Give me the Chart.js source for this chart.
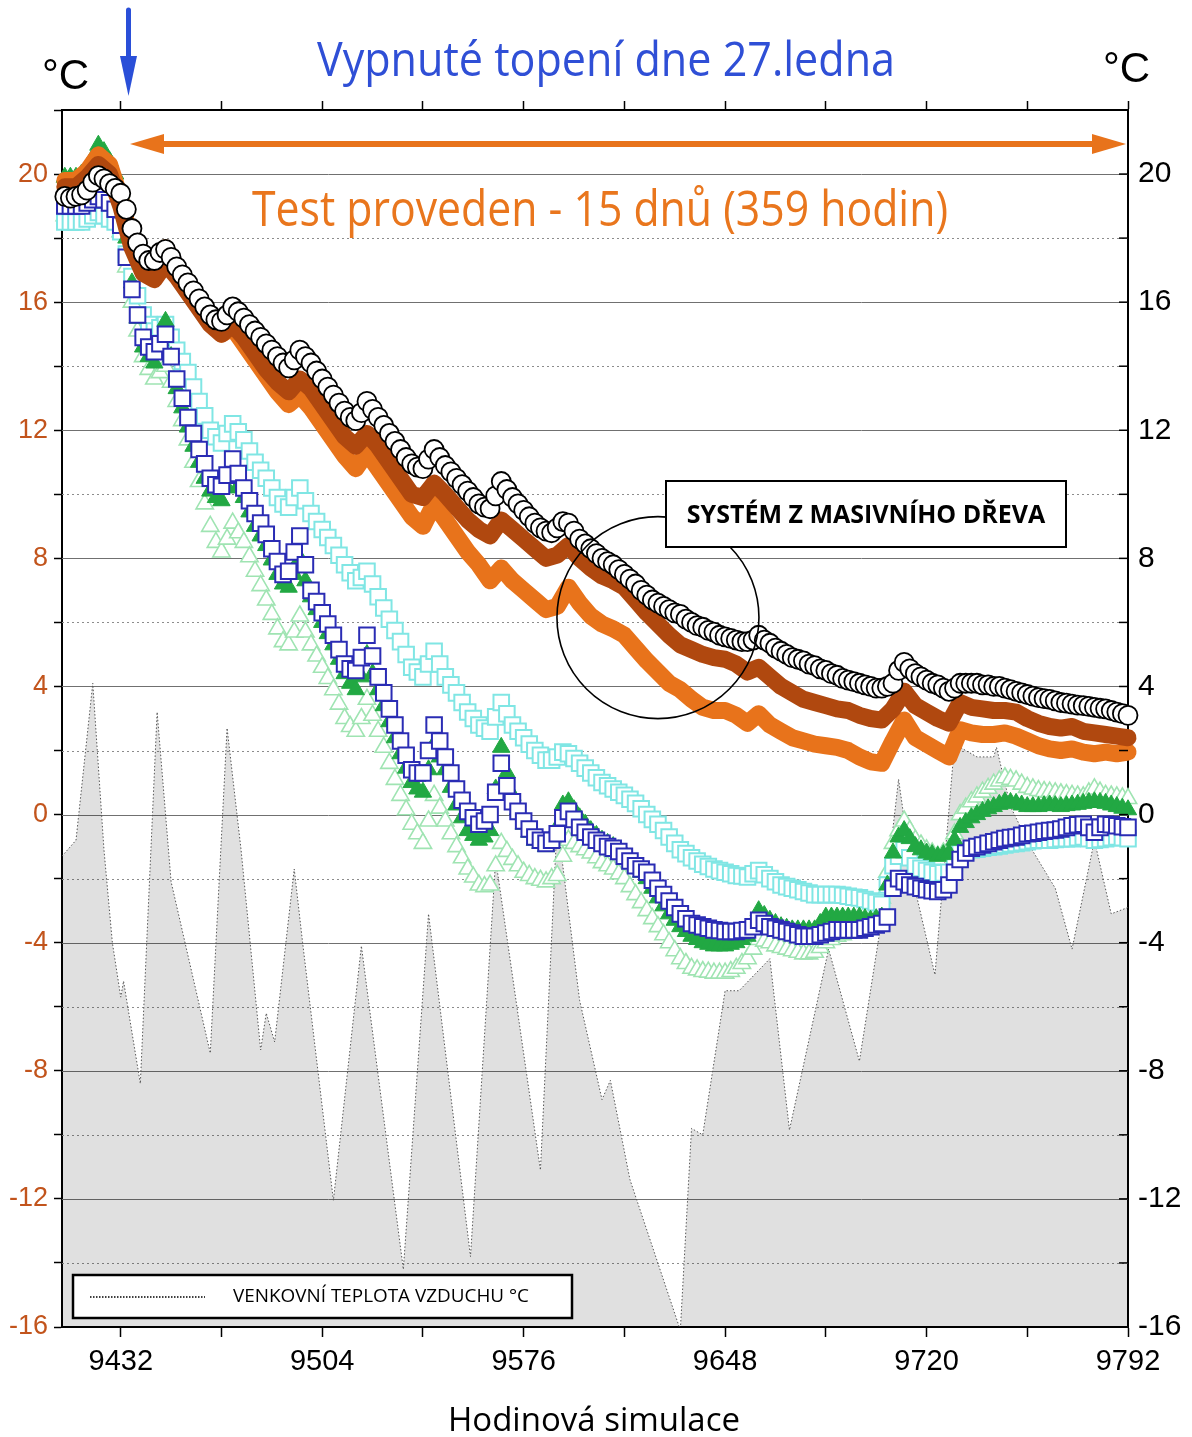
<!DOCTYPE html>
<html>
<head>
<meta charset="utf-8">
<script src="https://cdn.jsdelivr.net/npm/chart.js@4.4.1/dist/chart.umd.min.js"></script>
<style>
body { margin: 0; background: #fff; }
#wrap { width: 1192px; height: 1437px; }
</style>
</head>
<body>
<div id="wrap"><canvas id="myChart" width="1192" height="1437"></canvas></div>
<script>
// simulation hours: markers every 2 h, thick lines every 4 h
const markerHours = Array.from({ length: 191 }, (_, i) => 9412 + 2 * i);
const lineHours = Array.from({ length: 96 }, (_, i) => 9412 + 4 * i);

const circleTemps = [
  19.3, 19.25, 19.3, 19.35, 19.5, 19.75, 19.95, 19.85, 19.7, 19.55,
  19.4, 18.9, 18.3, 17.85, 17.5, 17.3, 17.3, 17.55, 17.65, 17.4,
  17.1, 16.85, 16.6, 16.35, 16.1, 15.85, 15.6, 15.45, 15.4, 15.6,
  15.85, 15.7, 15.5, 15.3, 15.1, 14.9, 14.7, 14.5, 14.3, 14.1,
  13.95, 14.2, 14.5, 14.3, 14.1, 13.85, 13.6, 13.35, 13.1, 12.85,
  12.6, 12.4, 12.3, 12.55, 12.9, 12.65, 12.4, 12.15, 11.9, 11.65,
  11.4, 11.15, 10.95, 10.85, 10.8, 11.1, 11.4, 11.15, 10.9, 10.7,
  10.5, 10.3, 10.1, 9.9, 9.7, 9.6, 9.55, 9.95, 10.4, 10.15,
  9.9, 9.7, 9.5, 9.3, 9.1, 8.95, 8.85, 8.8, 8.95, 9.15,
  9.1, 8.85, 8.6, 8.45, 8.3, 8.15, 8.0, 7.9, 7.8, 7.65,
  7.5, 7.35, 7.2, 7.0, 6.85, 6.7, 6.6, 6.5, 6.4, 6.3,
  6.25, 6.1, 6.0, 5.9, 5.85, 5.75, 5.7, 5.6, 5.55, 5.5,
  5.45, 5.4, 5.4, 5.45, 5.6, 5.45, 5.35, 5.2, 5.1, 5.0,
  4.9, 4.85, 4.8, 4.7, 4.65, 4.55, 4.5, 4.4, 4.35, 4.25,
  4.2, 4.15, 4.1, 4.05, 4.0, 3.95, 3.95, 4.0, 4.1, 4.5,
  4.75, 4.55, 4.4, 4.3, 4.2, 4.1, 4.05, 3.95, 3.85, 3.95,
  4.1, 4.1, 4.1, 4.1, 4.05, 4.05, 4.0, 4.0, 3.95, 3.9,
  3.85, 3.8, 3.75, 3.7, 3.65, 3.62, 3.6, 3.55, 3.5, 3.48,
  3.45, 3.42, 3.4, 3.38, 3.35, 3.32, 3.3, 3.25, 3.2, 3.15,
  3.1
];
const blueTemps = [
  19.0, 19.0, 19.0, 19.0, 19.1, 19.2, 19.3, 19.2, 19.1, 18.9,
  18.4, 17.4, 16.4, 15.6, 14.9, 14.6, 14.45, 14.7, 15.0, 14.3,
  13.6, 13.0, 12.4, 11.9, 11.4, 10.95, 10.5, 10.3, 10.25, 10.6,
  11.1, 10.65, 10.2, 9.8, 9.4, 9.1, 8.75, 8.3, 7.9, 7.5,
  7.6, 8.2, 8.7, 7.8, 7.0, 6.65, 6.3, 5.95, 5.6, 5.15,
  4.7, 4.55, 4.5, 4.9, 5.6, 4.95, 4.3, 3.8, 3.3, 2.8,
  2.3, 1.85, 1.4, 1.3, 1.3, 2.0, 2.8, 2.3, 1.8, 1.3,
  0.8, 0.45, 0.1, -0.1, -0.3, -0.2, 0.0, 0.7, 1.6, 0.9,
  0.4, 0.1, -0.2, -0.45, -0.7, -0.8, -0.9, -0.8, -0.6, -0.1,
  0.1, -0.15, -0.4, -0.55, -0.7, -0.8, -0.9, -1.0, -1.05, -1.15,
  -1.3, -1.45, -1.6, -1.7, -1.8, -2.05, -2.3, -2.5, -2.7, -2.9,
  -3.1, -3.25, -3.4, -3.45, -3.5, -3.55, -3.6, -3.62, -3.65, -3.65,
  -3.65, -3.62, -3.6, -3.5, -3.3, -3.4, -3.5, -3.55, -3.6, -3.65,
  -3.7, -3.75, -3.8, -3.8, -3.8, -3.75, -3.7, -3.65, -3.6, -3.6,
  -3.6, -3.6, -3.6, -3.55, -3.5, -3.45, -3.4, -3.2, -2.3, -2.0,
  -2.1, -2.2, -2.25, -2.3, -2.35, -2.38, -2.4, -2.35, -2.2, -1.8,
  -1.4, -1.2, -1.05, -1.0, -0.95, -0.9, -0.85, -0.8, -0.75, -0.72,
  -0.7, -0.65, -0.6, -0.58, -0.55, -0.52, -0.5, -0.48, -0.45, -0.4,
  -0.35, -0.32, -0.3, -0.4, -0.55, -0.4, -0.3, -0.32, -0.35, -0.38,
  -0.4
];
const greenTemps = [
  19.9, 19.9, 19.9, 20.0, 20.2, 20.5, 20.9, 20.7, 20.4, 20.0,
  19.4, 18.0, 16.6, 15.5, 14.6, 14.3, 14.1, 14.8, 15.4, 14.3,
  13.3, 12.7, 12.1, 11.5, 11.0, 10.5, 10.1, 9.9, 9.8, 10.2,
  10.6, 10.25, 9.9, 9.45, 9.0, 8.7, 8.4, 7.95, 7.5, 7.2,
  7.1, 7.5, 8.0, 7.3, 6.8, 6.4, 6.0, 5.65, 5.3, 4.85,
  4.4, 4.1, 3.9, 4.3, 5.0, 4.4, 3.9, 3.4, 2.9, 2.4,
  1.9, 1.45, 1.0, 0.8, 0.7, 1.4, 2.2, 1.8, 1.4, 0.85,
  0.3, -0.1, -0.5, -0.65, -0.8, -0.7, -0.5, 0.8, 2.1, 1.3,
  0.6, 0.15, -0.3, -0.55, -0.8, -0.9, -1.0, -0.7, -0.4, 0.3,
  0.4, 0.15, -0.1, -0.3, -0.5, -0.65, -0.8, -0.9, -1.0, -1.1,
  -1.2, -1.4, -1.6, -1.8, -2.0, -2.3, -2.6, -2.85, -3.1, -3.3,
  -3.5, -3.65, -3.8, -3.9, -4.0, -4.05, -4.1, -4.1, -4.1, -4.05,
  -4.0, -3.9, -3.8, -3.4, -3.0, -3.15, -3.3, -3.4, -3.5, -3.55,
  -3.6, -3.6, -3.6, -3.6, -3.6, -3.4, -3.2, -3.2, -3.2, -3.2,
  -3.2, -3.2, -3.2, -3.25, -3.3, -3.25, -3.2, -2.2, -1.2, -0.7,
  -0.5, -0.75, -1.0, -1.1, -1.2, -1.25, -1.3, -1.25, -1.2, -0.8,
  -0.4, -0.25, -0.1, 0.0, 0.1, 0.18, 0.25, 0.32, 0.4, 0.38,
  0.35, 0.3, 0.25, 0.25, 0.25, 0.28, 0.3, 0.28, 0.25, 0.28,
  0.3, 0.32, 0.35, 0.38, 0.4, 0.38, 0.35, 0.3, 0.25, 0.2,
  0.15
];
const lightGreenTemps = [
  18.7, 18.7, 18.7, 18.7, 18.8, 18.9, 19.0, 18.9, 18.8, 18.6,
  18.2, 17.1, 16.0, 15.1, 14.3, 13.9, 13.6, 13.8, 14.0, 13.5,
  12.9, 12.3, 11.7, 11.0, 10.4, 9.7, 9.0, 8.5, 8.2, 8.6,
  9.1, 8.8, 8.5, 8.05, 7.6, 7.15, 6.7, 6.25, 5.8, 5.4,
  5.3, 5.7, 6.2, 5.7, 5.3, 4.95, 4.6, 4.25, 3.9, 3.45,
  3.0, 2.75, 2.6, 3.0, 3.6, 3.1, 2.6, 2.1, 1.6, 1.1,
  0.6, 0.15, -0.3, -0.6, -0.9, -0.2, 0.6, 0.2, -0.2, -0.6,
  -1.0, -1.35, -1.7, -1.95, -2.2, -2.25, -2.2, -1.6, -0.9, -1.15,
  -1.4, -1.6, -1.8, -1.9, -2.0, -2.05, -2.1, -2.0, -1.9, -1.3,
  -0.8, -0.9, -1.0, -1.1, -1.2, -1.35, -1.5, -1.6, -1.7, -1.85,
  -2.0, -2.25, -2.5, -2.75, -3.0, -3.25, -3.5, -3.75, -4.0, -4.25,
  -4.5, -4.65, -4.8, -4.85, -4.9, -4.92, -4.95, -4.95, -4.95, -4.9,
  -4.8, -4.65, -4.5, -4.2, -3.9, -3.95, -4.0, -4.1, -4.15, -4.2,
  -4.25, -4.3, -4.35, -4.35, -4.3, -4.15, -4.0, -3.9, -3.8, -3.75,
  -3.7, -3.65, -3.6, -3.5, -3.4, -3.0, -2.6, -1.8, -0.9, -0.5,
  -0.2, -0.5, -0.8, -0.95, -1.1, -1.2, -1.3, -1.2, -1.1, -0.6,
  0.0, 0.2, 0.4, 0.55, 0.7, 0.82, 0.95, 1.05, 1.15, 1.1,
  1.05, 0.95, 0.85, 0.8, 0.75, 0.72, 0.7, 0.68, 0.65, 0.62,
  0.6, 0.58, 0.55, 0.68, 0.8, 0.7, 0.6, 0.58, 0.55, 0.52,
  0.5
];
const cyanTemps = [
  18.5, 18.5, 18.5, 18.5, 18.6, 18.7, 18.8, 18.7, 18.6, 18.5,
  18.2, 17.5, 16.8, 16.2, 15.6, 15.3, 15.1, 15.2, 15.3, 14.9,
  14.5, 14.15, 13.8, 13.35, 12.9, 12.45, 12.0, 11.8, 11.6, 11.9,
  12.2, 11.95, 11.7, 11.35, 11.0, 10.75, 10.5, 10.2, 9.9, 9.7,
  9.6, 9.9, 10.2, 9.8, 9.4, 9.15, 8.9, 8.65, 8.4, 8.1,
  7.8, 7.55, 7.3, 7.4, 7.6, 7.2, 6.8, 6.45, 6.1, 5.75,
  5.4, 5.0, 4.6, 4.45, 4.3, 4.7, 5.1, 4.7, 4.3, 4.05,
  3.8, 3.5, 3.2, 3.0, 2.8, 2.7, 2.6, 3.05, 3.5, 3.15,
  2.8, 2.6, 2.4, 2.2, 2.0, 1.85, 1.7, 1.7, 1.8, 1.95,
  1.9, 1.75, 1.6, 1.45, 1.3, 1.15, 1.0, 0.9, 0.8, 0.7,
  0.6, 0.48, 0.35, 0.18, 0.0, -0.15, -0.3, -0.5, -0.7, -0.9,
  -1.1, -1.22, -1.35, -1.45, -1.55, -1.62, -1.7, -1.75, -1.8, -1.85,
  -1.9, -1.92, -1.95, -1.85, -1.75, -1.88, -2.0, -2.1, -2.2, -2.25,
  -2.3, -2.35, -2.4, -2.45, -2.5, -2.5, -2.5, -2.5, -2.5, -2.52,
  -2.55, -2.58, -2.6, -2.65, -2.7, -2.75, -2.8, -2.2, -1.6, -1.3,
  -1.1, -1.35, -1.6, -1.68, -1.75, -1.8, -1.85, -1.82, -1.8, -1.5,
  -1.2, -1.15, -1.1, -1.08, -1.05, -1.02, -1.0, -0.98, -0.95, -0.92,
  -0.9, -0.88, -0.85, -0.82, -0.8, -0.8, -0.8, -0.78, -0.75, -0.75,
  -0.75, -0.72, -0.7, -0.75, -0.8, -0.78, -0.75, -0.72, -0.7, -0.72,
  -0.75
];

const brownTemps = [
  19.6, 19.6, 19.9, 20.3, 20.0, 19.0, 17.7, 16.9, 16.7, 17.2,
  16.8, 16.3, 15.8, 15.3, 15.0, 15.3, 14.9, 14.4, 13.9, 13.5,
  13.2, 13.6, 13.3, 12.8, 12.3, 11.8, 11.5, 11.9, 11.5, 11.0,
  10.5, 10.0, 9.9, 10.35, 10.0, 9.6, 9.2, 8.9, 8.7, 9.2,
  8.9, 8.6, 8.3, 8.0, 8.1, 8.4, 8.0, 7.7, 7.45, 7.3,
  7.1, 6.7, 6.3, 5.95, 5.6, 5.3, 5.15, 5.0, 4.9, 4.85,
  4.7, 4.45, 4.6, 4.3, 4.0, 3.8, 3.6, 3.5, 3.4, 3.3,
  3.25, 3.1, 3.0, 2.95, 3.3, 3.85, 3.4, 3.2, 3.0, 2.85,
  3.5, 3.35, 3.3, 3.25, 3.25, 3.2, 3.0, 2.85, 2.75, 2.7,
  2.75, 2.6, 2.55, 2.5, 2.45, 2.4
];
const orangeTemps = [
  19.8, 19.8, 20.1, 20.6, 20.3, 19.2, 17.8, 17.0, 17.2, 17.7,
  17.1, 16.5, 15.9, 15.4, 15.0, 15.2, 14.7, 14.2, 13.7, 13.2,
  12.8, 13.1, 12.7, 12.2, 11.7, 11.2, 10.8, 11.3, 10.8, 10.3,
  9.8, 9.3, 9.0, 9.7, 9.2, 8.7, 8.2, 7.8, 7.3, 7.7,
  7.3, 7.0, 6.7, 6.4, 6.5, 7.1, 6.6, 6.2, 5.95, 5.8,
  5.6, 5.2, 4.8, 4.45, 4.1, 3.9, 3.6, 3.35, 3.25, 3.25,
  3.1, 2.85, 3.15, 2.8, 2.6, 2.4, 2.3, 2.2, 2.15, 2.1,
  2.0, 1.8, 1.65, 1.6, 2.3, 2.95, 2.4, 2.2, 2.0, 1.8,
  2.65, 2.55, 2.5, 2.5, 2.55, 2.45, 2.3, 2.15, 2.05, 2.0,
  2.05, 1.95, 1.9, 1.95, 1.9, 1.95
];

// outdoor air temperature, peaks and troughs
const outdoorHours = [
  9411, 9416, 9422, 9426, 9429, 9432, 9433, 9439, 9445, 9450,
  9464, 9470, 9475, 9482, 9484, 9487, 9494, 9497, 9508, 9518,
  9533, 9542, 9557, 9566, 9582, 9588, 9596, 9604, 9607, 9614,
  9632, 9636, 9640, 9648, 9653, 9664, 9671, 9685, 9696, 9705,
  9710, 9715, 9723, 9730, 9738, 9744, 9745, 9750, 9757, 9766,
  9772, 9780, 9786, 9792
];
const outdoorTemps = [
  -1.3, -0.8, 4.1, -1.1, -4.0, -5.7, -5.2, -8.4, 3.2, -2.1,
  -7.45, 2.7, -1.1, -7.35, -6.2, -7.1, -1.7, -4.0, -12.05, -4.1,
  -14.2, -3.1, -13.8, -1.4, -11.1, -0.2, -5.8, -8.9, -8.3, -11.4,
  -16.1, -9.8, -10.0, -5.5, -5.5, -4.5, -9.85, -4.2, -7.7, -2.7,
  1.1, -2.0, -5.0, 2.2, 1.8, 1.8, 2.1, 0.25, -1.0, -2.3,
  -4.2, -0.8, -3.1, -2.9
];

const hourTicks = [9432, 9468, 9504, 9540, 9576, 9612, 9648, 9684, 9720, 9756, 9792];
const hourMin = 9411, hourMax = 9792;
const tempMin = -16, tempMax = 22;

function pts(xs, ys) {
  return xs.map((h, i) => ({ x: h, y: ys[i] }));
}

const decor = {
  id: 'decor',
  beforeDatasetsDraw(chart) {
    const { ctx, chartArea: a, scales } = chart;
    ctx.save();
    ctx.lineWidth = 1;
    scales.y.ticks.forEach(t => {
      const v = t.value;
      if (v <= tempMin || v >= tempMax) return;
      const py = Math.round(scales.y.getPixelForValue(v)) + 0.5;
      const solid = v % 4 === 0;
      ctx.setLineDash(solid ? [] : [2, 3]);
      ctx.strokeStyle = solid ? '#707070' : '#8c8c8c';
      ctx.beginPath();
      ctx.moveTo(a.left, py);
      ctx.lineTo(a.right, py);
      ctx.stroke();
    });
    ctx.restore();
  },
  afterDraw(chart) {
    const { ctx, chartArea: a, scales } = chart;
    ctx.save();

    // inward ticks of the right axis
    ctx.strokeStyle = '#000';
    ctx.lineWidth = 1.5;
    scales.y2.ticks.forEach(t => {
      const py = scales.y2.getPixelForValue(t.value);
      ctx.beginPath();
      ctx.moveTo(a.right - 9, py);
      ctx.lineTo(a.right, py);
      ctx.stroke();
    });

    // highlight circle
    ctx.beginPath();
    ctx.lineWidth = 1.6;
    ctx.arc(scales.x.getPixelForValue(9624), scales.y.getPixelForValue(6.15), 101, 0, Math.PI * 2);
    ctx.stroke();

    // label box
    ctx.fillStyle = '#fff';
    ctx.fillRect(666, 481, 400, 66);
    ctx.lineWidth = 2;
    ctx.strokeRect(666, 481, 400, 66);
    ctx.fillStyle = '#000';
    ctx.font = 'bold 25px "Open Sans"';
    ctx.textAlign = 'center';
    ctx.textBaseline = 'middle';
    ctx.fillText('SYSTÉM Z MASIVNÍHO DŘEVA', 866, 516, 384);

    // legend box
    ctx.fillStyle = '#fff';
    ctx.fillRect(73, 1275, 499, 43);
    ctx.lineWidth = 2.5;
    ctx.strokeRect(73, 1275, 499, 43);
    ctx.beginPath();
    ctx.lineWidth = 1.5;
    ctx.setLineDash([1.5, 1.5]);
    ctx.moveTo(90, 1297);
    ctx.lineTo(205, 1297);
    ctx.stroke();
    ctx.setLineDash([]);
    ctx.fillStyle = '#000';
    ctx.font = '19px "Open Sans"';
    ctx.textAlign = 'left';
    ctx.fillText('VENKOVNÍ TEPLOTA VZDUCHU °C', 233, 1297, 296);

    // orange double arrow
    const ay = 144;
    ctx.strokeStyle = '#e8731b';
    ctx.fillStyle = '#e8731b';
    ctx.lineWidth = 6;
    ctx.beginPath();
    ctx.moveTo(155, ay);
    ctx.lineTo(1100, ay);
    ctx.stroke();
    ctx.beginPath();
    ctx.moveTo(130, ay);
    ctx.lineTo(164, ay - 10);
    ctx.lineTo(164, ay + 10);
    ctx.closePath();
    ctx.fill();
    ctx.beginPath();
    ctx.moveTo(1126, ay);
    ctx.lineTo(1092, ay - 10);
    ctx.lineTo(1092, ay + 10);
    ctx.closePath();
    ctx.fill();

    // blue arrow
    ctx.strokeStyle = '#2a4fd8';
    ctx.fillStyle = '#2a4fd8';
    ctx.lineWidth = 5;
    ctx.lineCap = 'round';
    ctx.beginPath();
    ctx.moveTo(128.5, 10);
    ctx.lineTo(128.5, 62);
    ctx.stroke();
    ctx.beginPath();
    ctx.moveTo(120, 56);
    ctx.lineTo(137, 56);
    ctx.lineTo(128.5, 96);
    ctx.closePath();
    ctx.fill();

    // titles
    ctx.textAlign = 'center';
    ctx.textBaseline = 'alphabetic';
    ctx.fillStyle = '#2f4fd6';
    ctx.font = '48px "Open Sans"';
    ctx.fillText('Vypnuté topení dne 27.ledna', 606, 76, 578);
    ctx.fillStyle = '#e9761d';
    ctx.font = '49px "Open Sans"';
    ctx.fillText('Test proveden - 15 dnů (359 hodin)', 600, 226, 696);
    ctx.fillStyle = '#000';
    ctx.font = '33px "Open Sans"';
    ctx.fillText('Hodinová simulace', 594, 1431, 295);
    ctx.font = '42px "Liberation Sans"';
    ctx.textAlign = 'left';
    ctx.fillText('°C', 42, 89);
    ctx.fillText('°C', 1103, 82);

    ctx.restore();
  }
};

const markerBase = { showLine: false, clip: false };

new Chart(document.getElementById('myChart'), {
  type: 'line',
  data: {
    datasets: [
      Object.assign({}, markerBase, {
        label: 'circles', data: pts(markerHours, circleTemps), order: 1,
        pointStyle: 'circle', pointRadius: 9.5, pointBorderWidth: 1.8,
        pointBackgroundColor: '#fff', pointBorderColor: '#000'
      }),
      {
        label: 'brown', data: pts(lineHours, brownTemps), order: 2, clip: false,
        borderColor: '#b0480f', borderWidth: 17, pointRadius: 0,
        borderJoinStyle: 'round', borderCapStyle: 'round', tension: 0
      },
      {
        label: 'orange', data: pts(lineHours, orangeTemps), order: 3, clip: false,
        borderColor: '#e8731b', borderWidth: 17, pointRadius: 0,
        borderJoinStyle: 'round', borderCapStyle: 'round', tension: 0
      },
      Object.assign({}, markerBase, {
        label: 'blue', data: pts(markerHours, blueTemps), order: 4,
        pointStyle: 'rect', pointRadius: 11, pointBorderWidth: 2,
        pointBackgroundColor: '#fff', pointBorderColor: '#2a2cb4'
      }),
      Object.assign({}, markerBase, {
        label: 'green', data: pts(markerHours, greenTemps), order: 5,
        pointStyle: 'triangle', pointRadius: 10, pointBorderWidth: 1,
        pointBackgroundColor: '#22a843', pointBorderColor: '#22a843'
      }),
      Object.assign({}, markerBase, {
        label: 'cyan', data: pts(markerHours, cyanTemps), order: 6,
        pointStyle: 'rect', pointRadius: 11, pointBorderWidth: 2,
        pointBackgroundColor: '#fff', pointBorderColor: '#80e6e4'
      }),
      Object.assign({}, markerBase, {
        label: 'lightgreen', data: pts(markerHours, lightGreenTemps), order: 7,
        pointStyle: 'triangle', pointRadius: 10, pointBorderWidth: 1.6,
        pointBackgroundColor: '#fff', pointBorderColor: '#9fe4b2'
      }),
      {
        label: 'VENKOVNÍ TEPLOTA VZDUCHU °C', data: pts(outdoorHours, outdoorTemps), order: 8,
        borderColor: '#555', borderWidth: 1, borderDash: [1.5, 2],
        pointRadius: 0, tension: 0, fill: 'start',
        backgroundColor: 'rgba(0,0,0,0.12)'
      }
    ]
  },
  options: {
    responsive: false,
    animation: false,
    events: [],
    layout: { padding: 0 },
    plugins: { legend: { display: false }, tooltip: { enabled: false } },
    scales: {
      x: {
        type: 'linear', position: 'bottom', min: hourMin, max: hourMax,
        afterBuildTicks: s => { s.ticks = hourTicks.map(v => ({ value: v })); },
        afterFit: s => { s.height = 110; },
        grid: { drawOnChartArea: false, tickLength: 10, tickColor: '#000', tickWidth: 1.5 },
        border: { color: '#000', width: 2 },
        ticks: {
          padding: 8, color: '#000', maxRotation: 0, autoSkip: false,
          font: { family: 'Liberation Sans', size: 29 },
          callback: v => ((v - 9432) % 72 === 0 ? String(v) : '')
        }
      },
      x2: {
        type: 'linear', position: 'top', min: hourMin, max: hourMax,
        afterBuildTicks: s => { s.ticks = hourTicks.map(v => ({ value: v })); },
        afterFit: s => { s.height = 110; },
        grid: { drawOnChartArea: false, tickLength: 9, tickColor: '#000', tickWidth: 1.5 },
        border: { color: '#000', width: 2 },
        ticks: { autoSkip: false, font: { size: 10 }, callback: () => '' }
      },
      y: {
        type: 'linear', position: 'left', min: tempMin, max: tempMax,
        afterFit: s => { s.width = 62; },
        grid: { drawOnChartArea: false, tickLength: 8, tickColor: '#000', tickWidth: 1.5 },
        border: { color: '#000', width: 2 },
        ticks: {
          stepSize: 2, padding: 6, color: '#c2541c', autoSkip: false,
          font: { family: 'Liberation Sans', size: 27 },
          callback: v => (v % 4 === 0 ? String(v) : '')
        }
      },
      y2: {
        type: 'linear', position: 'right', min: tempMin, max: tempMax,
        afterFit: s => { s.width = 64; },
        grid: { display: false, drawTicks: false },
        border: { display: true, color: '#000', width: 2 },
        ticks: {
          stepSize: 2, padding: 10, color: '#000', autoSkip: false,
          font: { family: 'Liberation Sans', size: 30 },
          callback: v => (v % 4 === 0 ? String(v) : '')
        }
      }
    }
  },
  plugins: [decor]
});
</script>
</body>
</html>
